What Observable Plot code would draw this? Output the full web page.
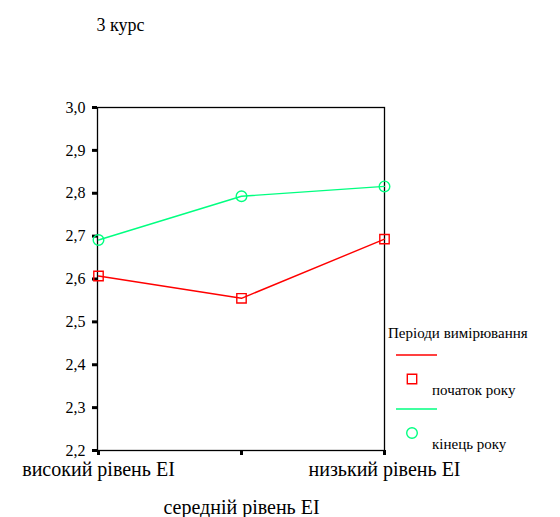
<!DOCTYPE html>
<html><head><meta charset="utf-8">
<script src="https://cdn.jsdelivr.net/npm/d3@7"></script>
<script src="https://cdn.jsdelivr.net/npm/@observablehq/plot@0.6"></script>
</head><body style="margin:0;background:#fff">
<div id="wrap"></div>
<script>
const title = "3 курс";
const categories = ["високий рівень ЕІ", "середній рівень ЕІ", "низький рівень ЕІ"];
const seriesNames = ["початок року", "кінець року"];
const startValues = [2.607, 2.555, 2.693];
const endValues = [2.691, 2.793, 2.816];
const yTicks = [2.2, 2.3, 2.4, 2.5, 2.6, 2.7, 2.8, 2.9, 3.0];
const legendTitle = "Періоди вимірювання";
const colors = ["#ff0000", "#00ff80"];
const symbols = ["square", "circle"];

const data = [];
[startValues, endValues].forEach((vals, s) => vals.forEach((v, i) => data.push({cat: categories[i], value: v, series: seriesNames[s]})));

const chart = Plot.plot({
  width: 560, height: 517,
  marginLeft: 97, marginRight: 176, marginTop: 107, marginBottom: 67,
  style: {fontFamily: "Liberation Serif", fontSize: "16px", color: "#000"},
  x: {type: "point", domain: categories, padding: 0},
  y: {domain: [2.2, 3.0]},
  color: {domain: seriesNames, range: colors},
  symbol: {domain: seriesNames, range: symbols},
  marks: [
    Plot.frame({stroke: "#000", strokeWidth: 1.3}),
    Plot.axisY({ticks: yTicks, tickFormat: d => d3.format(".1f")(d).replace(".", ","), tickSize: 5, strokeWidth: 3, tickPadding: 7, label: null, fontSize: 16}),
    Plot.axisX([categories[0], categories[2]], {tickSize: 5, strokeWidth: 3, tickPadding: 6, label: null, fontSize: 20}),
    Plot.axisX([categories[1]], {tickSize: 5, strokeWidth: 3, tickPadding: 44, label: null, fontSize: 20}),
    Plot.line(data, {x: "cat", y: "value", z: "series", stroke: "series", strokeWidth: 1.4}),
    Plot.dot(data, {x: "cat", y: "value", stroke: "series", symbol: "series", fill: "none", r: 5.3, strokeWidth: 1.4}),
    Plot.text([title], {frameAnchor: "top-left", dx: -1, dy: -77, textAnchor: "start", lineAnchor: "bottom", fontSize: 18})
  ]
});
document.getElementById("wrap").appendChild(chart);

// legend drawn in the same SVG (right margin)
const svg = d3.select(chart);
const lg = svg.append("g").attr("transform", "translate(388,338)").attr("fill", "#000").attr("text-anchor", "start");
lg.append("text").attr("x", 0).attr("y", 0).attr("font-size", 15).attr("text-anchor", "start").text(legendTitle);
seriesNames.forEach((name, i) => {
  const g = lg.append("g").attr("transform", `translate(0,${17 + i * 54})`);
  g.append("line").attr("x1", 8).attr("x2", 49).attr("y1", 0).attr("y2", 0).attr("stroke", colors[i]).attr("stroke-width", 1.4);
  g.append("path").attr("transform", "translate(24,24)")
    .attr("d", d3.symbol(i === 0 ? d3.symbolSquare : d3.symbolCircle, 5.3 * 5.3 * Math.PI)())
    .attr("fill", "none").attr("stroke", colors[i]).attr("stroke-width", 1.4);
  g.append("text").attr("x", 44).attr("y", 40).attr("font-size", 15).attr("text-anchor", "start").text(name);
});
</script>
</body></html>
